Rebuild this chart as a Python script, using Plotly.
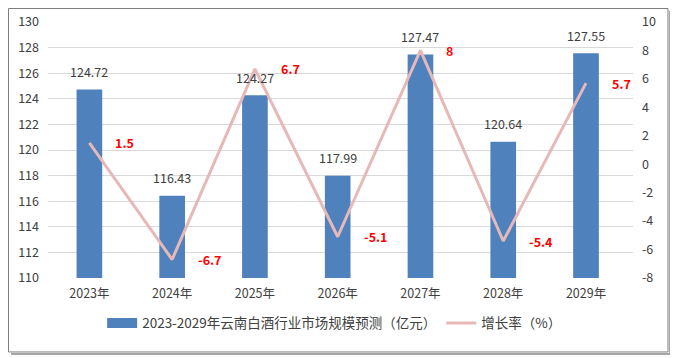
import plotly.graph_objects as go

years = ["2023年", "2024年", "2025年", "2026年", "2027年", "2028年", "2029年"]
market_size = [124.72, 116.43, 124.27, 117.99, 127.47, 120.64, 127.55]
growth_rate = [1.5, -6.7, 6.7, -5.1, 8, -5.4, 5.7]
growth_labels = ["1.5", "-6.7", "6.7", "-5.1", "8", "-5.4", "5.7"]
right_ticks = [-8, -6, -4, -2, 0, 2, 4, 6, 8, 10]
right_tick_text = ["-8", "-6", "-4", "-2", "0", "2", "4", "6", "8", "10"]
bar_name = "2023-2029年云南白酒行业市场规模预测（亿元）"
line_name = "增长率（%）"

FONT = "Noto Sans CJK SC, Liberation Sans, sans-serif"
BAR_COLOR = "#4F81BD"
LINE_COLOR = "#E6B9B8"

fig = go.Figure()
fig.add_trace(go.Bar(
    x=years, y=market_size, name=bar_name, showlegend=False,
    marker=dict(color=BAR_COLOR, line=dict(width=0)),
    width=0.31,
))
# legend entry for bars (wide rectangle swatch)
fig.add_trace(go.Scatter(
    x=[None], y=[None], name=bar_name, mode="lines",
    line=dict(color=BAR_COLOR, width=10),
))
fig.add_trace(go.Scatter(
    x=years, y=growth_rate, name=line_name, yaxis="y2",
    mode="lines", line=dict(color=LINE_COLOR, width=3),
))

for x, v in zip(years, market_size):
    fig.add_annotation(x=x, y=v, yref="y", text=f"{v:.2f}", showarrow=False,
                       yanchor="middle", yshift=18,
                       font=dict(size=12.5, color="#404040", family=FONT))
for x, v, t in zip(years, growth_rate, growth_labels):
    fig.add_annotation(x=x, y=v, yref="y2", text=f"<b>{t}</b>", showarrow=False,
                       xanchor="left", xshift=24, yanchor="middle",
                       font=dict(size=12.5, color="#FF0000", family=FONT))

fig.update_layout(
    width=670, height=350,
    margin=dict(l=40, r=45, t=14, b=80, autoexpand=False),
    paper_bgcolor="white", plot_bgcolor="white",
    font=dict(family=FONT, size=12.5, color="#404040"),
    showlegend=True,
    legend=dict(orientation="h", x=0.49, xanchor="center", y=-0.177, yanchor="middle",
                font=dict(size=13.5, color="#404040"), itemwidth=30, traceorder="normal"),
    xaxis=dict(showline=False, ticks="", tickfont=dict(size=12.5), showgrid=False,
               ticklabelstandoff=6, automargin=False),
    yaxis=dict(range=[110, 130], dtick=2, showgrid=True, gridcolor="#D9D9D9", gridwidth=1,
               zeroline=False, ticks="", tickfont=dict(size=12.5), ticklabelstandoff=8,
               automargin=False),
    yaxis2=dict(range=[-8, 10], tickvals=right_ticks, ticktext=right_tick_text,
                overlaying="y", side="right", showgrid=False, automargin=False,
                zeroline=False, ticks="", tickfont=dict(size=12.5), ticklabelstandoff=8),
    shapes=[
        dict(type="rect", xref="paper", yref="paper", x0=-0.0675, x1=1.0598, y0=-0.289, y1=1.0527,
             line=dict(color="#7F7F7F", width=1), layer="below"),
        dict(type="line", xref="paper", yref="paper", x0=-0.0632, x1=1.0632, y0=-0.297, y1=-0.297,
             line=dict(color="#A6A6A6", width=2)),
        dict(type="line", xref="paper", yref="paper", x0=1.0632, x1=1.0632, y0=-0.297, y1=1.043,
             line=dict(color="#A6A6A6", width=2)),
    ],
)

fig.write_html("out.html")
